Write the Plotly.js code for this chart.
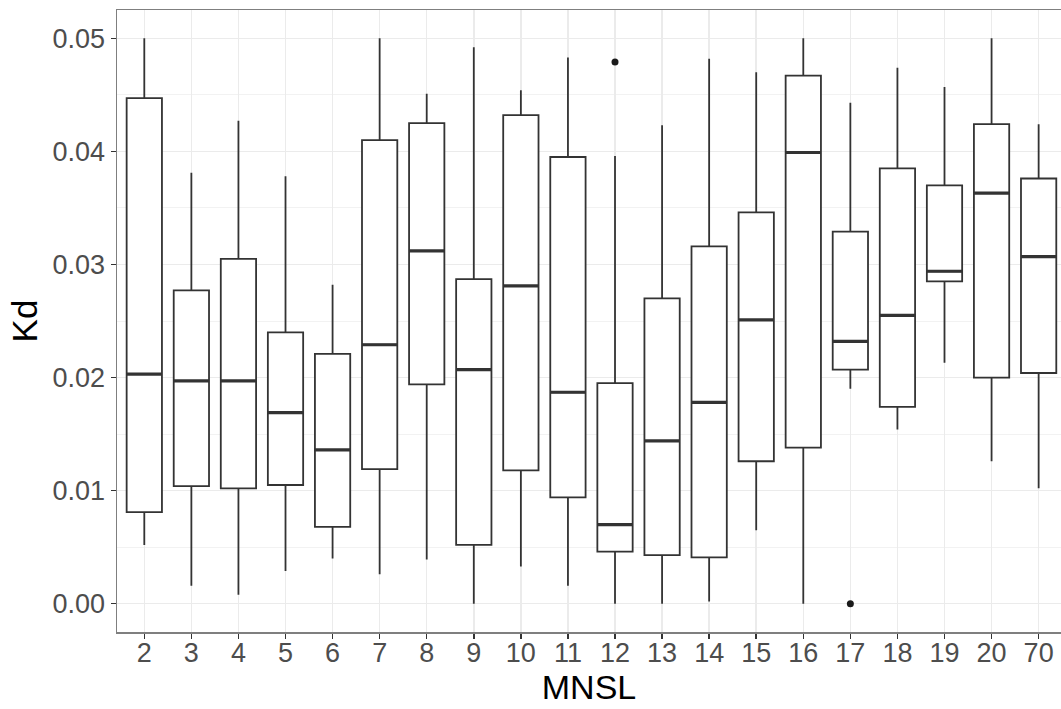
<!DOCTYPE html>
<html>
<head>
<meta charset="utf-8">
<script src="https://cdn.plot.ly/plotly-3.0.1.min.js"></script>
<style>
  html, body { margin: 0; padding: 0; background: #ffffff; overflow: hidden; }
  #chart { width: 1061px; height: 709px; }
</style>
</head>
<body>
<div id="chart"></div>
<script>
// Categories (MNSL)
const categories = ["2","3","4","5","6","7","8","9","10","11","12","13","14","15","16","17","18","19","20","70"];

// Box statistics for Kd per MNSL category
const lowerWhisker = [0.0052, 0.0016, 0.0008, 0.0029, 0.0040, 0.0026, 0.0039, 0.0000, 0.0033, 0.0016,
                      0.0000, 0.0000, 0.0002, 0.0065, 0.0000, 0.0190, 0.0154, 0.0213, 0.0126, 0.0102];
const q1Values     = [0.0081, 0.0104, 0.0102, 0.0105, 0.0068, 0.0119, 0.0194, 0.0052, 0.0118, 0.0094,
                      0.0046, 0.0043, 0.0041, 0.0126, 0.0138, 0.0207, 0.0174, 0.0285, 0.0200, 0.0204];
const medianValues = [0.0203, 0.0197, 0.0197, 0.0169, 0.0136, 0.0229, 0.0312, 0.0207, 0.0281, 0.0187,
                      0.0070, 0.0144, 0.0178, 0.0251, 0.0399, 0.0232, 0.0255, 0.0294, 0.0363, 0.0307];
const q3Values     = [0.0447, 0.0277, 0.0305, 0.0240, 0.0221, 0.0410, 0.0425, 0.0287, 0.0432, 0.0395,
                      0.0195, 0.0270, 0.0316, 0.0346, 0.0467, 0.0329, 0.0385, 0.0370, 0.0424, 0.0376];
const upperWhisker = [0.0500, 0.0381, 0.0427, 0.0378, 0.0282, 0.0500, 0.0451, 0.0492, 0.0454, 0.0483,
                      0.0396, 0.0423, 0.0482, 0.0470, 0.0500, 0.0443, 0.0474, 0.0457, 0.0500, 0.0424];

// Outliers
const outlierCategories = ["12", "17"];
const outlierValues = [0.0479, 0.0000];

// Tick values for the Kd axis
const yTickValues = [0, 0.01, 0.02, 0.03, 0.04, 0.05];
const yTickLabels = ["0.00", "0.01", "0.02", "0.03", "0.04", "0.05"];

const idx = categories.map((c, i) => i);
const boxWidth = 0.75;

const boxTrace = {
  type: "box",
  x: idx,
  q1: q1Values,
  median: medianValues,
  q3: q3Values,
  lowerfence: lowerWhisker,
  upperfence: upperWhisker,
  width: boxWidth,
  whiskerwidth: 0,
  fillcolor: "#ffffff",
  line: { color: "#333333", width: 1.8 },
  boxpoints: false,
  hoverinfo: "skip",
  showlegend: false
};

// Thicker median bars (as in ggplot2)
const medX = [], medY = [];
medianValues.forEach((m, i) => {
  medX.push(i - boxWidth / 2, i + boxWidth / 2, null);
  medY.push(m, m, null);
});
const medianTrace = {
  type: "scatter",
  mode: "lines",
  x: medX,
  y: medY,
  line: { color: "#333333", width: 3.2 },
  hoverinfo: "skip",
  showlegend: false
};

const outlierTrace = {
  type: "scatter",
  mode: "markers",
  x: outlierCategories.map(c => categories.indexOf(c)),
  y: outlierValues,
  marker: { color: "#1a1a1a", size: 7 },
  hoverinfo: "skip",
  showlegend: false
};

const layout = {
  width: 1061,
  height: 709,
  margin: { l: 117, r: 0, t: 10, b: 77 },
  paper_bgcolor: "#ffffff",
  plot_bgcolor: "#ffffff",
  font: { family: "Liberation Sans, Arial, sans-serif", color: "#4d4d4d" },
  showlegend: false,
  xaxis: {
    range: [-0.58, 19.475],
    tickmode: "array",
    tickvals: idx,
    ticktext: categories,
    tickfont: { size: 27, color: "#4d4d4d" },
    ticks: "outside",
    ticklen: 5,
    tickwidth: 1.5,
    tickcolor: "#333333",
    ticklabelstandoff: -9,
    showgrid: true,
    gridcolor: "#ebebeb",
    gridwidth: 1.5,
    zeroline: false,
    showline: true,
    linecolor: "#7f7f7f",
    linewidth: 1.5,
    mirror: true,
    title: { text: "MNSL", font: { size: 34, color: "#000000" }, standoff: 0 },
    fixedrange: true
  },
  yaxis: {
    range: [-0.0025, 0.0525],
    tickmode: "array",
    tickvals: yTickValues,
    ticktext: yTickLabels,
    tickfont: { size: 27, color: "#4d4d4d" },
    ticks: "outside",
    ticklen: 5,
    tickwidth: 1.5,
    tickcolor: "#333333",
    showgrid: true,
    gridcolor: "#ebebeb",
    gridwidth: 1.5,
    minor: { dtick: 0.005, tick0: 0, showgrid: true, gridcolor: "#f2f2f2", gridwidth: 1 },
    zeroline: false,
    showline: true,
    linecolor: "#7f7f7f",
    linewidth: 1.5,
    mirror: false,
    title: { text: "Kd", font: { size: 35, color: "#000000" }, standoff: 4 },
    fixedrange: true
  }
};

Plotly.newPlot("chart", [boxTrace, medianTrace, outlierTrace], layout, { displayModeBar: false, staticPlot: true });
</script>
</body>
</html>
